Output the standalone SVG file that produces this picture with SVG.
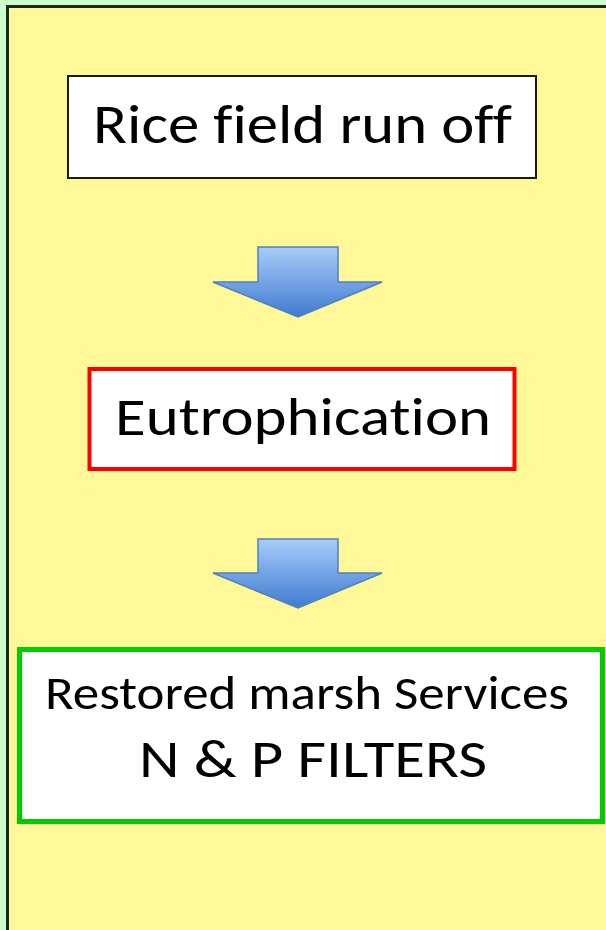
<svg xmlns="http://www.w3.org/2000/svg" width="606" height="930" viewBox="0 0 606 930">
  <style>
    .t { font-family: Carlito, Lato, "Liberation Sans", sans-serif; fill: #000; font-variant-ligatures: none; font-feature-settings: "liga" 0, "clig" 0; }
    .arrow { fill: url(#blueGrad); stroke: #4f81bd; stroke-width: 1.5; stroke-linejoin: miter; }
    .box { fill: #ffffff; }
  </style>
  <defs>
    <linearGradient id="blueGrad" x1="0" y1="0" x2="0" y2="1">
      <stop offset="0" stop-color="#a9ccfa"/>
      <stop offset="1" stop-color="#3f7bcf"/>
    </linearGradient>
  </defs>
  <rect x="0" y="0" width="606" height="930" fill="#ccffcc"/>
  <rect id="panel" x="7.5" y="6.5" width="610" height="940" fill="#fff899" stroke="#1c2a1c" stroke-width="3"/>

  <g id="node-runoff">
    <rect class="box" x="68" y="76" width="468" height="102" stroke="#1a1a0a" stroke-width="2"/>
    <text class="t" x="93" y="143" font-size="56" textLength="419" lengthAdjust="spacingAndGlyphs">Rice field run off</text>
  </g>

  <g id="node-eutrophication">
    <rect class="box" x="89.5" y="369" width="425" height="100" stroke="#ff0000" stroke-width="4"/>
    <text class="t" x="115" y="435" font-size="53" textLength="376" lengthAdjust="spacingAndGlyphs">Eutrophication</text>
  </g>

  <g id="node-marsh">
    <rect class="box" x="19.5" y="649.5" width="583" height="172" stroke="#00cc00" stroke-width="5"/>
    <text class="t" x="45" y="709" font-size="48" textLength="524" lengthAdjust="spacingAndGlyphs">Restored marsh Services</text>
    <text class="t" x="139" y="777" font-size="54" textLength="348" lengthAdjust="spacingAndGlyphs">N &amp; P FILTERS</text>
  </g>

  <g id="connectors">
    <path class="arrow" d="M258,247 H338 V282 H382 L298,317 L213,282 H258 Z"/>
    <path class="arrow" d="M258,539 H338 V573 H382 L298,608 L213,573 H258 Z"/>
  </g>
</svg>
